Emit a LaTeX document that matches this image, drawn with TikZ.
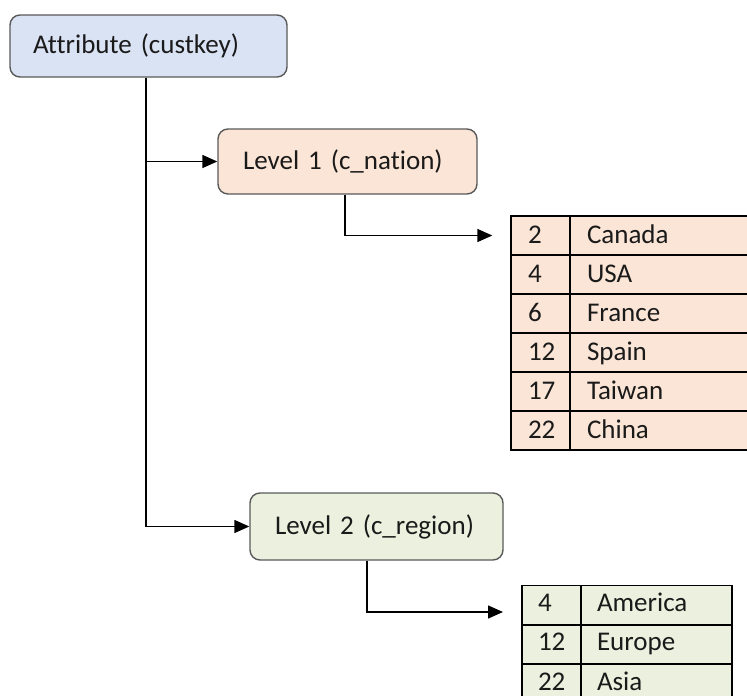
\documentclass[tikz,border=0pt]{standalone}
\usepackage{fontspec}
\setmainfont[Ligatures=NoCommon]{Carlito}
\usetikzlibrary{arrows.meta}

\definecolor{attrfill}{HTML}{DAE3F3}
\definecolor{nationfill}{HTML}{FBE5D6}
\definecolor{regionfill}{HTML}{EBF1DE}
\definecolor{boxline}{HTML}{5A5A5A}
\definecolor{ink}{HTML}{1A1A1A}

\tikzset{
  levelbox/.style={draw=boxline, line width=1.4pt, rounded corners=10pt,
    inner ysep=0pt, minimum height=64pt, align=left, text=ink,
    font=\fontsize{27}{32}\selectfont},
  conn/.style={draw=black, line width=1.5pt,
    -{Triangle[length=15pt,width=13pt]}},
  cell/.style={draw=black, line width=1.4pt, inner ysep=0pt,
    minimum height=39pt, text height=18pt, text depth=2.5pt,
    align=left, text=ink, font=\fontsize{27}{32}\selectfont},
  lowcell/.style={cell, text depth=5pt},
}

\begin{document}
\begin{tikzpicture}[x=1pt,y=-1pt]
  \useasboundingbox (0,0) rectangle (747,696);
  \clip (0,0) rectangle (747,696);
  \fill[white] (0,0) rectangle (747,696);

  % hierarchy boxes
  \node[levelbox, fill=attrfill, minimum height=62pt, inner xsep=23pt, text width=231pt]
    (attr) at (148.5,46) {Attribute (custkey)};
  \node[levelbox, fill=nationfill, minimum height=65pt, inner xsep=25pt, text width=209pt]
    (lvl1) at (347.5,161.5) {Level 1 (c\_nation)};
  \node[levelbox, fill=regionfill, minimum height=67pt, inner xsep=25pt, text width=203pt]
    (lvl2) at (376.5,526.5) {Level 2 (c\_region)};

  % nation table
  \foreach \k/\n [count=\i] in {2/Canada, 4/USA, 6/France, 12/Spain, 17/Taiwan, 22/China} {
    \node[cell, fill=nationfill, inner xsep=17pt, text width=25pt]
      (t1n\i) at (540.5,{196.5+39*\i}) {\k};
    \node[cell, fill=nationfill, inner xsep=17pt, text width=156pt]
      (t1c\i) at (665,{196.5+39*\i}) {\n};
  }

  % region table (its last row runs past the lower edge)
  \foreach \k/\n [count=\i] in {4/America, 12/Europe, 22/Asia} {
    \node[lowcell, fill=regionfill, inner xsep=16pt, text width=27pt]
      (t2n\i) at (551.5,{566+39.2*\i}) {\k};
    \node[lowcell, fill=regionfill, inner xsep=16pt, text width=119pt]
      (t2c\i) at (656.5,{566+39.2*\i}) {\n};
  }

  % connectors
  \coordinate (trunk) at (146,0);
  \coordinate (drop1) at (345,0);
  \coordinate (drop2) at (367,0);
  \coordinate (in2) at (503,612);
  \draw[conn] (attr.south -| trunk) |- (lvl1.west);
  \draw[conn] (attr.south -| trunk) |- (lvl2.west);
  \draw[conn, shorten >=18pt] (lvl1.south -| drop1) |- (t1n1.west);
  \draw[conn] (lvl2.south -| drop2) |- (in2);
\end{tikzpicture}
\end{document}
